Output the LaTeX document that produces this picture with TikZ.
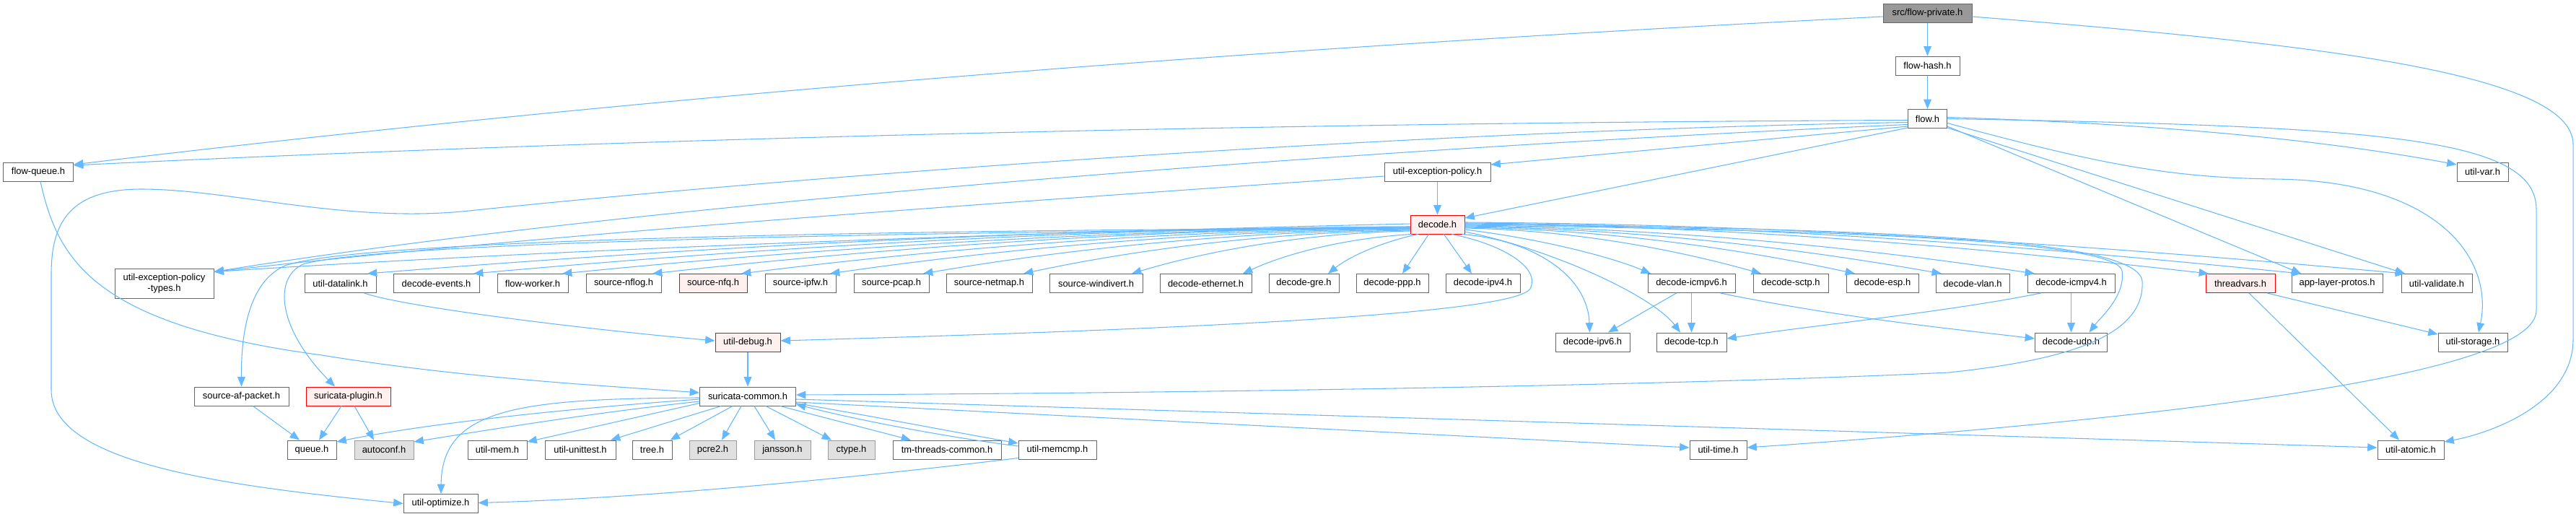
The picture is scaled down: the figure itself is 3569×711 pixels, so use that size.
\documentclass[tikz,border=0pt]{standalone}
\usepackage{fontspec}
\setmainfont{Liberation Sans}
\usetikzlibrary{arrows.meta,calc}
\definecolor{eb}{HTML}{63B8FF}
\definecolor{nb}{HTML}{666666}
\definecolor{rf}{HTML}{FFF0F0}
\definecolor{gf}{HTML}{E0E0E0}
\definecolor{gb}{HTML}{999999}
\definecolor{rootf}{HTML}{999999}
\begin{document}
\begin{tikzpicture}[x=0.75pt,y=-0.75pt,
  font=\fontsize{9.7}{11}\selectfont,
  nbox/.style={draw=nb,line width=0.75pt,fill=white,minimum height=19.5pt,inner sep=1pt,text=black},
  rbox/.style={nbox,draw=red,fill=rf},
  gbox/.style={nbox,draw=gb,fill=gf},
  root/.style={nbox,fill=rootf},
  bw/.style={minimum width=#1*0.75pt},
  ln/.style={draw=eb,line width=0.8pt,-{Triangle[length=10pt,width=8pt]}}]
\useasboundingbox (0,0) rectangle (3569,711);
% nodes
\node[root,bw=123] (fp) at (2670.5,18) {src/flow-private.h};
\node[nbox,bw=89] (fhash) at (2670.5,91) {flow-hash.h};
\node[nbox,bw=54] (flow) at (2670.5,164.5) {flow.h};
\node[nbox,bw=97] (fq) at (53,238) {flow-queue.h};
\node[nbox,bw=147] (uep) at (1991.5,238) {util-exception-policy.h};
\node[nbox,bw=71] (uvar) at (3439.5,238) {util-var.h};
\node[rbox,bw=75] (dec) at (1991.5,311) {decode.h};
\node[nbox,bw=137,minimum height=30.75pt,align=center] (ueptypes) at (227.5,392.5) {util-exception-policy\\-types.h};
% row 1
\node[nbox,bw=99] (udl) at (471.5,392.5) {util-datalink.h};
\node[nbox,bw=119] (devents) at (604.5,392.5) {decode-events.h};
\node[nbox,bw=98] (fworker) at (738,392.5) {flow-worker.h};
\node[nbox,bw=104] (snflog) at (864,392.5) {source-nflog.h};
\node[rbox,bw=94] (snfq) at (988,392.5) {source-nfq.h};
\node[nbox,bw=98] (sipfw) at (1109,392.5) {source-ipfw.h};
\node[nbox,bw=104] (spcap) at (1235,392.5) {source-pcap.h};
\node[nbox,bw=119] (snetmap) at (1370.5,392.5) {source-netmap.h};
\node[nbox,bw=129] (swindivert) at (1518.5,392.5) {source-windivert.h};
\node[nbox,bw=127] (deth) at (1670.5,392.5) {decode-ethernet.h};
\node[nbox,bw=97] (dgre) at (1806.5,392.5) {decode-gre.h};
\node[nbox,bw=100] (dppp) at (1929,392.5) {decode-ppp.h};
\node[nbox,bw=103] (dipv4) at (2054.5,392.5) {decode-ipv4.h};
\node[nbox,bw=121] (dicmpv6) at (2343.5,392.5) {decode-icmpv6.h};
\node[nbox,bw=104] (dsctp) at (2481,392.5) {decode-sctp.h};
\node[nbox,bw=100] (desp) at (2608,392.5) {decode-esp.h};
\node[nbox,bw=102] (dvlan) at (2733,392.5) {decode-vlan.h};
\node[nbox,bw=121] (dicmpv4) at (2869.5,392.5) {decode-icmpv4.h};
\node[rbox,bw=96] (tvars) at (3104,392.5) {threadvars.h};
\node[nbox,bw=126] (alp) at (3238,392.5) {app-layer-protos.h};
\node[nbox,bw=98] (uval) at (3376,392.5) {util-validate.h};
% row 2
\node[rbox,bw=90] (udebug) at (1036,474) {util-debug.h};
\node[nbox,bw=103] (dipv6) at (2206.5,474) {decode-ipv6.h};
\node[nbox,bw=97] (dtcp) at (2343.5,474) {decode-tcp.h};
\node[nbox,bw=100] (dudp) at (2869.5,474) {decode-udp.h};
\node[nbox,bw=96] (ustor) at (3426,474) {util-storage.h};
% row 3
\node[nbox,bw=131] (safp) at (334.5,549) {source-af-packet.h};
\node[rbox,bw=117] (splugin) at (482.5,549) {suricata-plugin.h};
\node[nbox,bw=133] (scommon) at (1036,549) {suricata-common.h};
% row 4
\node[nbox,bw=68] (queue) at (432,623) {queue.h};
\node[gbox,bw=82] (autoconf) at (532,623) {autoconf.h};
\node[nbox,bw=82] (umem) at (689,623) {util-mem.h};
\node[nbox,bw=98] (uunit) at (804,623) {util-unittest.h};
\node[nbox,bw=55] (tree) at (903.5,623) {tree.h};
\node[gbox,bw=65] (pcre2) at (987.5,623) {pcre2.h};
\node[gbox,bw=78] (jansson) at (1084,623) {jansson.h};
\node[gbox,bw=65] (ctype) at (1179.5,623) {ctype.h};
\node[nbox,bw=150] (tmtc) at (1312,623) {tm-threads-common.h};
\node[nbox,bw=108] (umemcmp) at (1465,623) {util-memcmp.h};
\node[nbox,bw=79] (utime) at (2380.5,623) {util-time.h};
\node[nbox,bw=92] (uatomic) at (3340,623) {util-atomic.h};
% row 5
\node[nbox,bw=103] (uopt) at (610.5,697.5) {util-optimize.h};

% edges from flow-private / flow-hash / flow
\draw[ln] ($(fp.west)+(0,5)$) .. controls (1773,65) and (939,128) .. ($(fq.east)+(0,-10)$);
\draw[ln] (fp.south) -- (fhash.north);
\draw[ln] ($(fp.east)+(0,5)$) .. controls (3200,60) and (3565,100) .. (3565,200) -- (3565,470) .. controls (3565,560) and (3450,600) .. ($(uatomic.east)+(0,-11)$);
\draw[ln] (fhash.south) -- (flow.north);
\draw[ln] ($(flow.west)+(0,2)$) .. controls (1800,170) and (900,190) .. ($(fq.east)+(0,-9)$);
\draw[ln] ($(flow.west)+(0,5)$) .. controls (1900,182) and (1050,250) .. (650,292) .. controls (480,310) and (320,262) .. (196,262) .. controls (95,262) and (71,310) .. (71,380) -- (71,540) .. controls (71,640) and (300,672) .. (uopt.west);
\draw[ln] ($(flow.west)+(0,8)$) .. controls (1900,205) and (900,280) .. ($(ueptypes.east)+(0,-16)$);
\draw[ln] ($(flow.south west)+(0,-3)$) -- ($(uep.east)+(0,-10)$);
\draw[ln] ($(flow.south west)+(0,-1)$) -- ($(dec.east)+(0,-9)$);
\draw[ln] ($(flow.east)+(0,-2)$) .. controls (2950,170) and (3200,190) .. ($(uvar.west)+(0,-10)$);
\draw[ln] (flow.east) .. controls (3300,175) and (3514,190) .. (3514,290) -- (3514,430) .. controls (3514,520) and (3000,580) .. ($(utime.east)+(0,-3)$);
\draw[ln] ($(flow.south east)+(0,-3)$) -- ($(alp.north)+(-50,0)$);
\draw[ln] ($(flow.south east)+(0,-1)$) -- ($(uval.north)+(-44,0)$);
\draw[ln] ($(flow.east)+(0,6)$) .. controls (2900,225) and (3000,246) .. (3150,248) .. controls (3380,250) and (3455,360) .. ($(ustor.north)+(8,0)$);

% flow-queue, util-exception-policy
\draw[ln] ($(fq.south)+(3,0)$) .. controls (80,360) and (130,450) .. (446,492) .. controls (650,525) and (850,535) .. ($(scommon.west)+(0,-5)$);
\draw[ln] (uep.south) -- (dec.north);
\draw[ln] ($(uep.west)+(0,6)$) .. controls (1400,280) and (800,320) .. ($(ueptypes.east)+(0,-16)$);

% decode.h fan
\draw[ln] ($(dec.west)+(0,-1)$) .. controls (1300,325) and (700,350) .. ($(ueptypes.east)+(0,-16)$);
\draw[ln] ($(dec.west)+(0,5)$) .. controls (1300,318) and (500,330) .. (395,368) .. controls (345,390) and (334,460) .. (safp.north);
\draw[ln] ($(dec.west)+(0,6)$) .. controls (1300,320) and (520,335) .. (420,366) .. controls (378,385) and (385,455) .. ($(splugin.north)+(-18.5,0)$);
\draw[ln] ($(dec.west)+(0,3)$) .. controls (1376,317) and (870,350) .. ($(udl.north)+(37.5,0)$);
\draw[ln] ($(dec.west)+(0,3)$) .. controls (1435,317) and (980,350) .. ($(devents.north)+(51.5,0)$);
\draw[ln] ($(dec.west)+(0,4)$) .. controls (1484,318) and (1073,350) .. ($(fworker.north)+(41,0)$);
\draw[ln] ($(dec.west)+(0,4)$) .. controls (1534,318) and (1166,350) .. ($(snflog.north)+(40,0)$);
\draw[ln] ($(dec.west)+(0,5)$) .. controls (1583,319) and (1259,350) .. ($(snfq.north)+(39,0)$);
\draw[ln] ($(dec.west)+(0,6)$) .. controls (1632,320) and (1351,350) .. ($(sipfw.north)+(41,0)$);
\draw[ln] ($(dec.west)+(0,7)$) .. controls (1684,321) and (1448,350) .. ($(spcap.north)+(44,0)$);
\draw[ln] ($(dec.west)+(0,8)$) .. controls (1740,322) and (1552,350) .. ($(snetmap.north)+(47.5,0)$);
\draw[ln] ($(dec.west)+(0,9)$) .. controls (1800,323) and (1664,350) .. ($(swindivert.north)+(49.5,0)$);
\draw[ln] ($(dec.south west)+(2,0)$) .. controls (1862,330) and (1780,352) .. ($(deth.north)+(51.5,0)$);
\draw[ln] ($(dec.south west)+(11,0)$) .. controls (1915,335) and (1870,355) .. ($(dgre.north)+(33.5,0)$);
\draw[ln] ($(dec.south)+(-12,0)$) -- ($(dppp.north)+(14,0)$);
\draw[ln] ($(dec.south)+(9,0)$) -- ($(dipv4.north)+(-15.5,0)$);
\draw[ln] ($(dec.south)+(20,0)$) .. controls (2080,338) and (2135,370) .. (2120,400) .. controls (2095,440) and (1500,460) .. ($(udebug.east)+(0,-2)$);
\draw[ln] ($(dec.south east)+(-4,0)$) .. controls (2130,333) and (2200,385) .. ($(dipv6.north)+(-4,0)$);
\draw[ln] ($(dec.east)+(0,10)$) .. controls (2150,345) and (2290,410) .. ($(dtcp.north)+(-15.5,0)$);
\draw[ln] ($(dec.east)+(0,7)$) .. controls (2130,330) and (2230,355) .. ($(dicmpv6.north)+(-56.5,0)$);
\draw[ln] ($(dec.east)+(0,5)$) .. controls (2193,319) and (2337,350) .. ($(dsctp.north)+(-41,0)$);
\draw[ln] ($(dec.east)+(0,4)$) .. controls (2245,318) and (2435,350) .. ($(desp.north)+(-38,0)$);
\draw[ln] ($(dec.east)+(0,3)$) .. controls (2293,317) and (2525,350) .. ($(dvlan.north)+(-43,0)$);
\draw[ln] ($(dec.east)+(0,2)$) .. controls (2345,316) and (2622,350) .. ($(dicmpv4.north)+(-50.5,0)$);
\draw[ln] ($(dec.east)+(0,1)$) .. controls (2500,318) and (2930,330) .. (2940,375) .. controls (2945,410) and (2910,440) .. ($(dudp.north)+(25,0)$);
\draw[ln] (dec.east) .. controls (2600,316) and (2965,330) .. (2968,390) .. controls (2972,470) and (2850,500) .. (2700,516) .. controls (2300,535) and (1600,545) .. ($(scommon.east)+(0,-2)$);
\draw[ln] ($(dec.east)+(0,-1)$) .. controls (2441,313) and (2802,350) .. ($(tvars.north)+(-44,0)$);
\draw[ln] ($(dec.east)+(0,-2)$) .. controls (2493,312) and (2898,350) .. ($(alp.north)+(-50,0)$);
\draw[ln] ($(dec.east)+(0,-3)$) .. controls (2550,311) and (3006,350) .. ($(uval.north)+(-44,0)$);

% lower edges
\draw[ln] ($(udl.south)+(33,0)$) .. controls (560,425) and (800,455) .. ($(udebug.west)+(0,-2)$);
\draw[ln] (udebug.south) -- (udebug.south |- scommon.north);
\draw[ln] ($(safp.south)+(16,0)$) -- ($(queue.north)+(-17,0)$);
\draw[ln] ($(splugin.south)+(-9.5,0)$) -- ($(queue.north)+(10,0)$);
\draw[ln] ($(splugin.south)+(8.5,0)$) -- ($(autoconf.north)+(-14,0)$);
\draw[ln] ($(scommon.west)+(0,4)$) .. controls (800,565) and (600,585) .. ($(queue.east)+(0,-11)$);
\draw[ln] ($(scommon.west)+(0,7)$) .. controls (820,572) and (680,595) .. ($(autoconf.east)+(0,-11)$);
\draw[ln] ($(scommon.west)+(0,2)$) .. controls (720,552) and (612,565) .. ($(uopt.north)+(0.5,0)$);
\draw[ln] ($(scommon.south west)+(0,-4)$) -- ($(umem.east)+(0,-11)$);
\draw[ln] ($(scommon.south)+(-37,0)$) -- ($(uunit.north)+(42,0)$);
\draw[ln] ($(scommon.south)+(-21,0)$) -- ($(tree.north)+(25,0)$);
\draw[ln] ($(scommon.south)+(-9,0)$) -- ($(pcre2.north)+(12.5,0)$);
\draw[ln] ($(scommon.south)+(9,0)$) -- ($(jansson.north)+(-10,0)$);
\draw[ln] ($(scommon.south)+(25,0)$) -- ($(ctype.north)+(-27.5,0)$);
\draw[ln] ($(scommon.south)+(45,0)$) -- ($(tmtc.north)+(-50,0)$);
\draw[ln] ($(scommon.south east)+(0,-4)$) .. controls (1200,575) and (1330,600) .. ($(umemcmp.west)+(0,-9)$);
\draw[ln] ($(umemcmp.west)+(0,-5)$) .. controls (1330,608) and (1200,585) .. ($(scommon.east)+(0,11)$);
\draw[ln] ($(scommon.east)+(0,8)$) -- ($(utime.west)+(0,-3)$);
\draw[ln] ($(scommon.east)+(0,4)$) -- ($(uatomic.west)+(0,-3)$);
\draw[ln] ($(umemcmp.south west)+(0,-2)$) .. controls (1200,660) and (900,690) .. ($(uopt.east)+(0,-1)$);
\draw[ln] ($(dicmpv6.south)+(-21,0)$) -- ($(dipv6.north)+(21.5,0)$);
\draw[ln] (dicmpv6.south) -- (dtcp.north);
\draw[ln] ($(dicmpv6.south)+(40,0)$) .. controls (2550,440) and (2700,455) .. ($(dudp.west)+(0,-5)$);
\draw[ln] (dicmpv4.south) -- (dicmpv4.south |- dudp.north);
\draw[ln] ($(dicmpv4.south)+(-42,0)$) .. controls (2700,432) and (2500,452) .. ($(dtcp.east)+(0,-5)$);
\draw[ln] ($(tvars.south)+(37,0)$) -- ($(ustor.west)+(0,-11)$);
\draw[ln] ($(tvars.south)+(12,0)$) -- ($(uatomic.north)+(-16,0)$);
\end{tikzpicture}
\end{document}
